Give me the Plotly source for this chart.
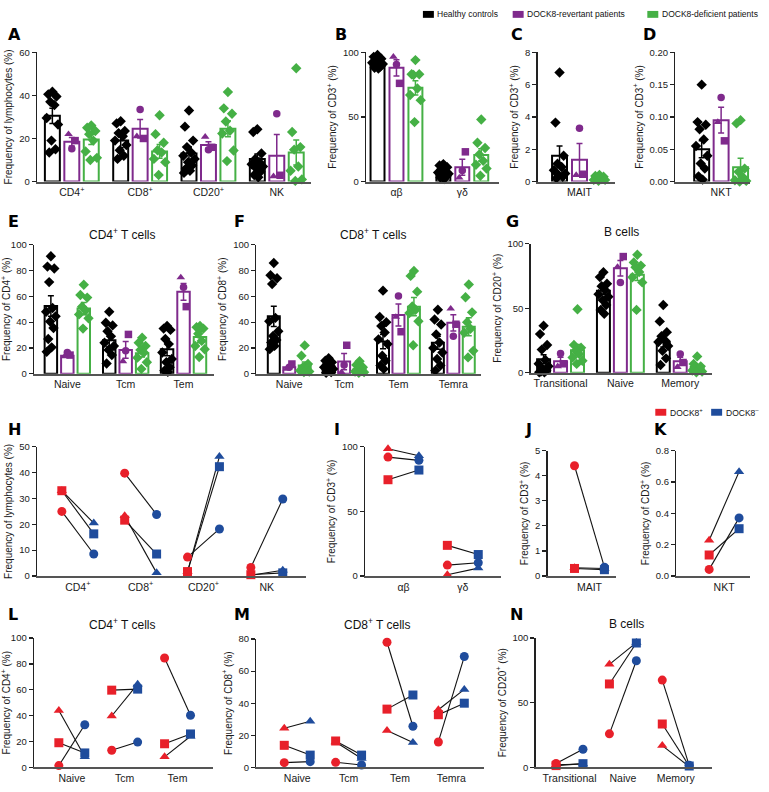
import plotly.graph_objects as go

W, H = 769, 792
FONT = "Liberation Sans, Arial, sans-serif"
BLACK = "#000000"
PURPLE = "#7F2A8C"
GREEN = "#45B045"
RED = "#E8202A"
BLUE = "#1F4C9C"

# ======================= DATA =======================
# ---- Panel A: frequency of lymphocytes ----
A_cats = ["CD4<sup>+</sup>", "CD8<sup>+</sup>", "CD20<sup>+</sup>", "NK"]
A_hc = [[41.7, 40.5, 39.5, 37, 35.5, 29.5, 26.5, 19, 15, 13.5],
        [28, 27, 23.5, 22.5, 21, 19, 17, 14.5, 12, 10.5],
        [33, 25.5, 19, 16, 13.5, 12, 10.5, 9, 7.5, 6, 5, 4],
        [24.3, 23, 13, 10.5, 9, 8, 7, 6, 4.5, 3, 2]]
A_hc_mean = [30.5, 19, 13, 10.5]
A_hc_sem = [3.5, 3.3, 3.0, 2.3]
A_rev_circle = [15.2, 33.4, 14.8, 31.5]
A_rev_square = [19, 20, 15.9, 2.9]
A_rev_triangle = [22, 21, 20.8, 2.4]
A_rev_mean = [18.5, 24.5, 17, 12]
A_rev_sem = [2, 4.3, 1.5, 9.8]
A_def = [[26, 25, 23.5, 22, 19, 14, 10, 11],
         [30.8, 22, 18, 14.5, 13.5, 10.5, 9, 3],
         [41.6, 34, 31.5, 27.9, 23.6, 22.3, 14.4, 9.5],
         [52.6, 23, 16, 14.8, 7, 5, 1, 0.3]]
A_def_mean = [19.5, 14, 24.5, 13.5]
A_def_sem = [2.3, 3.2, 3.7, 5.8]

# ---- Panel B: alpha-beta / gamma-delta ----
B_cats = ["αβ", "γδ"]
B_hc = [[98, 96.5, 95, 94, 93, 92, 91, 90, 89, 88, 87.5],
        [13.5, 12.5, 11, 9.5, 8, 7, 6, 5, 4, 3, 2]]
B_hc_mean = [91.5, 7]
B_hc_sem = [1, 1.1]
B_rev_circle = [90.5, 8.5]
B_rev_square = [76, 23]
B_rev_triangle = [96.5, 3]
B_rev_mean = [88, 11]
B_rev_sem = [6.3, 6.2]
B_def = [[94, 83, 82.5, 83, 72, 67, 63, 46],
         [48, 30, 26, 21, 16, 13, 10, 4.5]]
B_def_mean = [72.5, 20.5]
B_def_sem = [5.5, 4.8]

# ---- Panel C: MAIT ----
C_cats = ["MAIT"]
C_hc = [[6.75, 3.65, 1.6, 1.1, 0.9, 0.7, 0.5, 0.4, 0.3, 0.2]]
C_hc_mean = [1.6]
C_hc_sem = [0.6]
C_rev_circle = [3.3]
C_rev_square = [0.45]
C_rev_triangle = [0.4]
C_rev_mean = [1.35]
C_rev_sem = [1.0]
C_def = [[0.4, 0.35, 0.3, 0.2, 0.15, 0.1, 0.05, 0.1]]
C_def_mean = [0.2]
C_def_sem = [0.05]

# ---- Panel D: NKT ----
D_cats = ["NKT"]
D_hc = [[0.15, 0.092, 0.088, 0.081, 0.065, 0.055, 0.04, 0.028, 0.02, 0.008, 0.003]]
D_hc_mean = [0.05]
D_hc_sem = [0.013]
D_rev_circle = [0.13]
D_rev_square = [0.063]
D_rev_triangle = [0.092]
D_rev_mean = [0.095]
D_rev_sem = [0.02]
D_def = [[0.095, 0.09, 0.02, 0.015, 0.007, 0.002, 0.001, 0.0]]
D_def_mean = [0.022]
D_def_sem = [0.014]

# ---- Panel E: CD4+ T cells ----
E_cats = ["Naive", "Tcm", "Tem"]
E_hc = [[91, 83, 81.5, 71, 51, 48, 44.5, 40.5, 35.5, 27, 20.5, 17],
        [48, 39.5, 37.5, 33, 29, 24, 21.5, 18.5, 14.5, 8],
        [37, 35, 34, 27, 23, 16.5, 11.5, 9, 5, 2.5, 1.5]]
E_hc_mean = [52.5, 26, 19]
E_hc_sem = [8, 5, 5]
E_rev_circle = [16.5, 17.8, 67]
E_rev_square = [14.5, 30.5, 52]
E_rev_triangle = [13.5, 9.7, 74.6]
E_rev_mean = [14, 18.5, 63.5]
E_rev_sem = [1, 6.5, 6.5]
E_def = [[69, 61, 59, 52, 49, 46, 43, 35],
         [28, 24, 21.5, 18.5, 16.5, 12.5, 9, 3.8],
         [37, 36, 35, 31, 25.5, 21.5, 19, 13]]
E_def_mean = [50.5, 16, 28.5]
E_def_sem = [4.7, 3, 4.5]

# ---- Panel F: CD8+ T cells ----
F_cats = ["Naive", "Tcm", "Tem", "Temra"]
F_hc = [[85.8, 76.3, 74, 69.5, 43.3, 40.7, 33, 29.3, 26.2, 24.2, 21.6, 19.1],
        [12, 10.2, 9, 7.5, 6.4, 5.1, 3.8, 2.5, 1.3, 0.8],
        [64.4, 44, 40, 37, 32, 26.7, 23, 14, 10.2, 6.4, 3.8],
        [49.6, 42, 38.2, 30.5, 24.2, 20, 16.5, 11.5, 6.4, 2.5]]
F_hc_mean = [44.5, 5.5, 25, 24]
F_hc_sem = [7.8, 1.2, 5.5, 5]
F_rev_circle = [5, 6.9, 60.3, 29]
F_rev_square = [7.6, 22.1, 32.6, 38.4]
F_rev_triangle = [3.8, 1.3, 44, 50.4]
F_rev_mean = [5, 9.5, 45.5, 39.5]
F_rev_sem = [1.2, 6.3, 8.5, 6.3]
F_def = [[22, 14, 7.6, 5.1, 3.8, 2.5, 1.8, 1.3],
         [9.7, 6.9, 5.1, 3.8, 2.5, 1.8, 1.3, 0.8],
         [79.6, 75.8, 63.6, 52.2, 49.6, 47, 40.7, 22.1],
         [69.2, 59.3, 47.6, 40, 34.9, 31.8, 17.8, 12.7]]
F_def_mean = [6.5, 3.5, 52, 36.5]
F_def_sem = [2.7, 1.1, 7, 7]

# ---- Panel G: B cells ----
G_cats = ["Transitional", "Naive", "Memory"]
G_hc = [[36.5, 30, 21.5, 18, 10, 7, 5, 3, 2, 1, 0.5, 0.5],
        [77.9, 74.1, 69, 67, 64, 60.9, 58.9, 56.3, 52.5, 48.7, 45.7],
        [52.5, 39.8, 31.5, 28.4, 25, 23.9, 20.8, 17, 11.2, 6.1]]
G_hc_mean = [10.5, 63.5, 24]
G_hc_sem = [3.5, 3, 4]
G_rev_circle = [15, 70, 14.5]
G_rev_square = [7, 90, 8]
G_rev_triangle = [5, 82, 4.5]
G_rev_mean = [9, 81, 9]
G_rev_sem = [3, 6, 3]
G_def = [[49.2, 21.6, 19.5, 17, 14.5, 11.9, 9.4, 6.9],
         [91.4, 85.5, 83, 81.7, 78, 74, 70, 48.7],
         [12.7, 6.9, 4.3, 3, 1.8, 1, 0.5, 5]]
G_def_mean = [17.5, 76, 4.5]
G_def_sem = [4.5, 4.5, 1.5]

# ---- Paired panels (DOCK8+ vs DOCK8-) ----
H_cats = ["CD4<sup>+</sup>", "CD8<sup>+</sup>", "CD20<sup>+</sup>", "NK"]
H_pos_circle = [25, 39.8, 7.3, 3.3]
H_pos_square = [33, 21.6, 1.7, 0.5]
H_pos_triangle = [33, 23.3, 1.7, 0.3]
H_neg_circle = [8.5, 23.8, 18.2, 29.8]
H_neg_square = [16.3, 8.5, 42.3, 1.2]
H_neg_triangle = [20.5, 1.2, 46.2, 2.2]

I_cats = ["αβ", "γδ"]
I_pos_circle = [92, 8.4]
I_pos_square = [74.5, 23.7]
I_pos_triangle = [98.5, 1]
I_neg_circle = [89.5, 10.2]
I_neg_square = [82, 16.6]
I_neg_triangle = [93, 6.1]

J_cats = ["MAIT"]
J_pos_circle = [4.4]
J_pos_square = [0.3]
J_pos_triangle = [0.33]
J_neg_circle = [0.35]
J_neg_square = [0.25]
J_neg_triangle = [0.3]

K_cats = ["NKT"]
K_pos_circle = [0.042]
K_pos_square = [0.134]
K_pos_triangle = [0.228]
K_neg_circle = [0.371]
K_neg_square = [0.302]
K_neg_triangle = [0.666]

L_cats = ["Naive", "Tcm", "Tem"]
L_pos_circle = [1.3, 13.2, 84.6]
L_pos_square = [19, 59.7, 18.2]
L_pos_triangle = [44, 39.7, 8.1]
L_neg_circle = [32.9, 19.5, 40.3]
L_neg_square = [11.1, 60.5, 25.8]
L_neg_triangle = [8.1, 64.3, 24]

M_cats = ["Naive", "Tcm", "Tem", "Temra"]
M_pos_circle = [2.9, 3.1, 78, 15.8]
M_pos_square = [13.7, 16.4, 36.3, 32.8]
M_pos_triangle = [24.4, 15.8, 23, 35.9]
M_neg_circle = [3.5, 1.4, 25.6, 69.1]
M_neg_square = [7.6, 7.6, 45.1, 40]
M_neg_triangle = [28.7, 5.5, 15.4, 48.6]

N_cats = ["Transitional", "Naive", "Memory"]
N_pos_circle = [3, 25.9, 67.5]
N_pos_square = [1.3, 64.5, 33.5]
N_pos_triangle = [2, 79.7, 16.8]
N_neg_circle = [14, 82.5, 1.5]
N_neg_square = [2.8, 96.2, 1]
N_neg_triangle = [2.5, 96.5, 0.5]

# ======================= LAYOUT GEOMETRY (pixels) =======================
geom = {
    "A": dict(n=1, x0=35, x1=310, yt=47, yb=178, ymax=60, dt=20, c=[70, 138.5, 207, 275.5], step=19.5, bw=15, fmt=""),
    "B": dict(n=2, x0=365, x1=498, yt=47, yb=178, ymax=100, dt=50, c=[395.5, 461.5], step=19, bw=14, fmt=""),
    "C": dict(n=3, x0=537, x1=615, yt=47, yb=178, ymax=8, dt=2, c=[579], step=20, bw=15, fmt=""),
    "D": dict(n=4, x0=675, x1=750, yt=47, yb=178, ymax=0.2, dt=0.05, c=[721], step=19.5, bw=15, fmt=".2f"),
    "E": dict(n=5, x0=32, x1=213, yt=242, yb=373, ymax=100, dt=20, c=[65.5, 124, 182], step=16.5, bw=12.5, fmt=""),
    "F": dict(n=6, x0=255, x1=480, yt=242, yb=373, ymax=100, dt=20, c=[288, 343, 397.5, 452.5], step=15.5, bw=12, fmt=""),
    "G": dict(n=7, x0=530, x1=712, yt=241, yb=372, ymax=100, dt=50, c=[560, 620, 680], step=17, bw=13, fmt=""),
    "H": dict(n=8, x0=35, x1=305, yt=447, yb=578, ymax=50, dt=10, c=[76, 139, 202, 265.5], off=16, fmt=""),
    "I": dict(n=9, x0=364, x1=500, yt=447, yb=578, ymax=100, dt=50, c=[402.5, 462], off=15.5, fmt=""),
    "J": dict(n=10, x0=547, x1=616, yt=451, yb=578, ymax=5, dt=1, c=[589], off=15, fmt=""),
    "K": dict(n=11, x0=676, x1=750, yt=451, yb=578, ymax=0.8, dt=0.2, c=[724], off=15, fmt=".1f"),
    "L": dict(n=12, x0=32, x1=212, yt=641, yb=772, ymax=100, dt=20, c=[70, 123, 176], off=13, fmt=""),
    "M": dict(n=13, x0=255, x1=483, yt=642, yb=772, ymax=80, dt=20, c=[296, 347.5, 399, 450.5], off=13, fmt=""),
    "N": dict(n=14, x0=535, x1=712, yt=641, yb=772, ymax=100, dt=50, c=[569, 622.5, 675.5], off=13.5, fmt=""),
}

ytitles = {
    "A": "Frequency of lymphocytes (%)", "B": "Frequency of CD3<sup>+</sup> (%)",
    "C": "Frequency of CD3<sup>+</sup> (%)", "D": "Frequency of CD3<sup>+</sup> (%)",
    "E": "Frequency of CD4<sup>+</sup> (%)", "F": "Frequency of CD8<sup>+</sup> (%)",
    "G": "Frequency of CD20<sup>+</sup> (%)", "H": "Frequency of lymphocytes (%)",
    "I": "Frequency of CD3<sup>+</sup> (%)", "J": "Frequency of CD3<sup>+</sup> (%)",
    "K": "Frequency of CD3<sup>+</sup> (%)", "L": "Frequency of CD4<sup>+</sup> (%)",
    "M": "Frequency of CD8<sup>+</sup> (%)", "N": "Frequency of CD20<sup>+</sup> (%)",
}

fig = go.Figure()


def axnames(n):
    s = "" if n == 1 else str(n)
    return "x" + s, "y" + s, "xaxis" + s, "yaxis" + s


def setup_axes(key, cats):
    g = geom[key]
    xr, yr, xk, yk = axnames(g["n"])
    nt = int(round(g["ymax"] / g["dt"]))
    tv = [g["dt"] * i for i in range(nt + 1)]
    fig.layout[xk] = dict(
        domain=[g["x0"] / W, g["x1"] / W], range=[0, g["x1"] - g["x0"]], anchor=yr,
        showline=True, linecolor="#555555", linewidth=2, ticks="",
        tickvals=[c - g["x0"] for c in g["c"]],
        ticktext=cats, showgrid=False, zeroline=False,
        tickfont=dict(size=10.5, color="#1a1a1a", family=FONT), fixedrange=True)
    fig.layout[yk] = dict(
        domain=[1 - g["yb"] / H, 1 - g["yt"] / H], range=[0, g["ymax"]], anchor=xr,
        showline=True, linecolor="#222222", linewidth=1.3, ticks="outside", ticklen=4,
        tickcolor="#222222", tickwidth=1.2, tickvals=tv, tickformat=g["fmt"],
        showgrid=False, zeroline=False, tickfont=dict(size=9.5, color="#1a1a1a", family=FONT),
        title=dict(text=ytitles[key], font=dict(size=10, color="#1a1a1a", family=FONT), standoff=4),
        fixedrange=True)
    return xr, yr


PATTERN = [0.0, -0.65, 0.65, -0.33, 0.33, -0.9, 0.9, -0.15, 0.5, -0.5, 0.15, -0.8, 0.8]


def spread(vals, center, half):
    order = sorted(range(len(vals)), key=lambda i: -vals[i])
    xs = [0.0] * len(vals)
    for r, i in enumerate(order):
        xs[i] = center + PATTERN[r % len(PATTERN)] * half
    return xs


def bar_panel(key, cats, hc, hc_mean, hc_sem, rc, rs, rt, r_mean, r_sem, de, de_mean, de_sem):
    g = geom[key]
    xr, yr = setup_axes(key, cats)
    cs = [c - g["x0"] for c in g["c"]]
    groups = [(-1, BLACK, hc_mean, hc_sem), (0, PURPLE, r_mean, r_sem), (1, GREEN, de_mean, de_sem)]
    for k, col, m, s in groups:
        fig.add_trace(go.Bar(
            x=[c + k * g["step"] for c in cs], y=m, width=g["bw"], xaxis=xr, yaxis=yr,
            marker=dict(color="white", line=dict(color=col, width=2)),
            error_y=dict(type="data", array=s, color=col, thickness=1.5, width=3)))
    half = 0.42 * g["bw"]
    hx, hy = [], []
    for i, vals in enumerate(hc):
        hx += spread(vals, cs[i] - g["step"], half)
        hy += vals
    fig.add_trace(go.Scatter(x=hx, y=hy, mode="markers", xaxis=xr, yaxis=yr, cliponaxis=False,
                             marker=dict(symbol="diamond", size=8, color=BLACK)))
    dx, dy = [], []
    for i, vals in enumerate(de):
        dx += spread(vals, cs[i] + g["step"], half)
        dy += vals
    fig.add_trace(go.Scatter(x=dx, y=dy, mode="markers", xaxis=xr, yaxis=yr, cliponaxis=False,
                             marker=dict(symbol="diamond", size=8, color=GREEN)))
    for vals, sym, o in [(rc, "circle", 0.0), (rs, "square", 0.22), (rt, "triangle-up", -0.22)]:
        fig.add_trace(go.Scatter(x=[c + o * g["bw"] for c in cs], y=vals, mode="markers",
                                 xaxis=xr, yaxis=yr, cliponaxis=False,
                                 marker=dict(symbol=sym, size=7.5, color=PURPLE)))


def paired_panel(key, cats, pc, ps, pt, nc, ns, nt):
    g = geom[key]
    xr, yr = setup_axes(key, cats)
    cs = [c - g["x0"] for c in g["c"]]
    o = g["off"]
    lx, ly = [], []
    for pos, neg in [(pc, nc), (ps, ns), (pt, nt)]:
        for i, c in enumerate(cs):
            lx += [c - o, c + o, None]
            ly += [pos[i], neg[i], None]
    fig.add_trace(go.Scatter(x=lx, y=ly, mode="lines", xaxis=xr, yaxis=yr, cliponaxis=False,
                             line=dict(color="#111111", width=1.1)))
    for vals, sym, col, sgn in [(pc, "circle", RED, -1), (ps, "square", RED, -1), (pt, "triangle-up", RED, -1),
                                (nc, "circle", BLUE, 1), (ns, "square", BLUE, 1), (nt, "triangle-up", BLUE, 1)]:
        fig.add_trace(go.Scatter(x=[c + sgn * o for c in cs], y=vals, mode="markers",
                                 xaxis=xr, yaxis=yr, cliponaxis=False,
                                 marker=dict(symbol=sym, size=9, color=col)))


bar_panel("A", A_cats, A_hc, A_hc_mean, A_hc_sem, A_rev_circle, A_rev_square, A_rev_triangle,
          A_rev_mean, A_rev_sem, A_def, A_def_mean, A_def_sem)
bar_panel("B", B_cats, B_hc, B_hc_mean, B_hc_sem, B_rev_circle, B_rev_square, B_rev_triangle,
          B_rev_mean, B_rev_sem, B_def, B_def_mean, B_def_sem)
bar_panel("C", C_cats, C_hc, C_hc_mean, C_hc_sem, C_rev_circle, C_rev_square, C_rev_triangle,
          C_rev_mean, C_rev_sem, C_def, C_def_mean, C_def_sem)
bar_panel("D", D_cats, D_hc, D_hc_mean, D_hc_sem, D_rev_circle, D_rev_square, D_rev_triangle,
          D_rev_mean, D_rev_sem, D_def, D_def_mean, D_def_sem)
bar_panel("E", E_cats, E_hc, E_hc_mean, E_hc_sem, E_rev_circle, E_rev_square, E_rev_triangle,
          E_rev_mean, E_rev_sem, E_def, E_def_mean, E_def_sem)
bar_panel("F", F_cats, F_hc, F_hc_mean, F_hc_sem, F_rev_circle, F_rev_square, F_rev_triangle,
          F_rev_mean, F_rev_sem, F_def, F_def_mean, F_def_sem)
bar_panel("G", G_cats, G_hc, G_hc_mean, G_hc_sem, G_rev_circle, G_rev_square, G_rev_triangle,
          G_rev_mean, G_rev_sem, G_def, G_def_mean, G_def_sem)

paired_panel("H", H_cats, H_pos_circle, H_pos_square, H_pos_triangle, H_neg_circle, H_neg_square, H_neg_triangle)
paired_panel("I", I_cats, I_pos_circle, I_pos_square, I_pos_triangle, I_neg_circle, I_neg_square, I_neg_triangle)
paired_panel("J", J_cats, J_pos_circle, J_pos_square, J_pos_triangle, J_neg_circle, J_neg_square, J_neg_triangle)
paired_panel("K", K_cats, K_pos_circle, K_pos_square, K_pos_triangle, K_neg_circle, K_neg_square, K_neg_triangle)
paired_panel("L", L_cats, L_pos_circle, L_pos_square, L_pos_triangle, L_neg_circle, L_neg_square, L_neg_triangle)
paired_panel("M", M_cats, M_pos_circle, M_pos_square, M_pos_triangle, M_neg_circle, M_neg_square, M_neg_triangle)
paired_panel("N", N_cats, N_pos_circle, N_pos_square, N_pos_triangle, N_neg_circle, N_neg_square, N_neg_triangle)

# ======================= ANNOTATIONS =======================
ann = []
shapes = []

letters = [("A", 4, 29), ("B", 332, 29), ("C", 508, 29), ("D", 641, 29),
           ("E", 4, 219), ("F", 231, 219), ("G", 503, 219),
           ("H", 4, 429), ("I", 331, 429), ("J", 522, 429), ("K", 652, 429),
           ("L", 4, 617), ("M", 231, 617), ("N", 507, 617)]
for t, x, y in letters:
    ann.append(dict(text="<b>" + t + "</b>", x=x / W, y=1 - y / H, xref="paper", yref="paper",
                    xanchor="left", yanchor="middle", showarrow=False,
                    font=dict(size=16, color="black", family="DejaVu Sans, " + FONT)))

titles = [("CD4<sup>+</sup> T cells", 121, 231), ("CD8<sup>+</sup> T cells", 372, 231), ("B cells", 621, 229),
          ("CD4<sup>+</sup> T cells", 121, 627), ("CD8<sup>+</sup> T cells", 376, 627), ("B cells", 626, 627)]
for t, x, y in titles:
    ann.append(dict(text=t, x=x / W, y=1 - y / H, xref="paper", yref="paper",
                    xanchor="center", yanchor="middle", showarrow=False,
                    font=dict(size=12, color="#111111", family=FONT)))

legend_items = [(BLACK, "Healthy controls", 422, 8.5), (PURPLE, "DOCK8-revertant patients", 512, 8.5),
                (GREEN, "DOCK8-deficient patients", 647, 8.5),
                (RED, "DOCK8<sup>+</sup>", 655, 412), (BLUE, "DOCK8<sup>–</sup>", 711, 412)]
for col, t, x, y in legend_items:
    shapes.append(dict(type="rect", xref="paper", yref="paper", x0=x / W, x1=(x + 11) / W,
                       y0=1 - (y + 3.5) / H, y1=1 - (y - 3.5) / H, fillcolor=col, line=dict(width=0)))
    ann.append(dict(text=t, x=(x + 12.5) / W, y=1 - y / H, xref="paper", yref="paper",
                    xanchor="left", yanchor="middle", showarrow=False,
                    font=dict(size=8.5, color="#111111", family=FONT)))

fig.update_layout(
    width=W, height=H, autosize=False, margin=dict(l=0, r=0, t=0, b=0),
    paper_bgcolor="white", plot_bgcolor="white", showlegend=False, barmode="overlay",
    font=dict(family=FONT, color="#111111"), annotations=ann, shapes=shapes, hovermode=False)

fig.write_html("out.html", config={"displayModeBar": False, "staticPlot": True},
               post_script="document.body.style.margin='0';document.body.style.overflow='hidden';")
